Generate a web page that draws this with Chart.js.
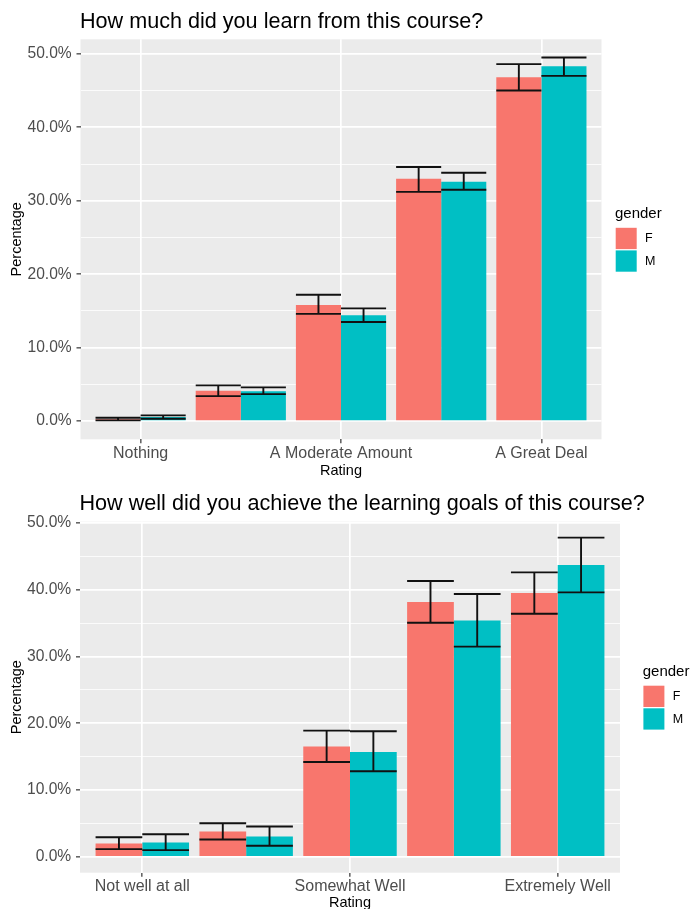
<!DOCTYPE html>
<html>
<head>
<meta charset="utf-8">
<title>Course survey by gender</title>
<script src="https://cdn.jsdelivr.net/npm/chart.js@4.4.1/dist/chart.umd.min.js"></script>
<style>
  html, body { margin: 0; padding: 0; background: #fff; overflow: hidden; }
  .wrap { position: absolute; left: 0; width: 691px; }
  #wrapLearn { top: 0; height: 480px; }
  #wrapGoals { top: 480px; height: 432px; }
</style>
</head>
<body>
<div class="wrap" id="wrapLearn"><canvas id="learnChart" width="691" height="480"></canvas></div>
<div class="wrap" id="wrapGoals"><canvas id="goalsChart" width="691" height="432"></canvas></div>
<script>
// Rating categories (only every second one carries a tick label in the original)
var learnCategories = ['Nothing', '', 'A Moderate Amount', '', 'A Great Deal'];
var goalsCategories = ['Not well at all', '', 'Somewhat Well', '', 'Extremely Well'];
var genders = ['F', 'M'];
var genderColors = ['#F8766D', '#00BFC4'];

// "How much did you learn" - percentages
var learnF     = [0.27, 4.13, 15.8, 33.0, 46.8];
var learnFLow  = [0.10, 3.40, 14.6, 31.2, 45.0];
var learnFHigh = [0.45, 4.86, 17.2, 34.6, 48.6];
var learnM     = [0.55, 4.05, 14.4, 32.6, 48.3];
var learnMLow  = [0.32, 3.68, 13.5, 31.5, 47.0];
var learnMHigh = [0.78, 4.60, 15.35, 33.8, 49.5];

// "How well did you achieve the learning goals"
var goalsF     = [1.99, 3.78, 16.5, 38.15, 39.5];
var goalsFLow  = [1.14, 2.59, 14.2, 35.06, 36.4];
var goalsFHigh = [2.93, 5.02, 18.9, 41.3, 42.6];
var goalsM     = [2.14, 3.03, 15.7, 35.4, 43.7];
var goalsMLow  = [0.99, 1.64, 12.8, 31.47, 39.6];
var goalsMHigh = [3.38, 4.53, 18.8, 39.35, 47.8];

// y ticks: majors every 10 (labelled), minors in between
var percentTicks = [0, 5, 10, 15, 20, 25, 30, 35, 40, 45, 50];

var FONT = '"Liberation Sans", Arial, sans-serif';
Chart.defaults.font.family = FONT;
Chart.defaults.color = '#4D4D4D';

// grey ggplot panel behind the grid
var panelBg = {
    id: 'panelBg',
    beforeDraw: function(chart) {
        var a = chart.chartArea, ctx = chart.ctx;
        ctx.save();
        ctx.fillStyle = '#EBEBEB';
        ctx.fillRect(a.left, a.top, a.right - a.left, a.bottom - a.top);
        ctx.restore();
    }
};

// error bars, same width as the bar they sit on
var errorBars = {
    id: 'errorBars',
    afterDatasetsDraw: function(chart) {
        var ctx = chart.ctx, y = chart.scales.y;
        ctx.save();
        ctx.strokeStyle = '#111';
        ctx.lineWidth = 1.9;
        chart.data.datasets.forEach(function(ds, i) {
            chart.getDatasetMeta(i).data.forEach(function(bar, j) {
                var half = bar.width / 2;
                var hi = y.getPixelForValue(ds.errHigh[j]);
                var lo = y.getPixelForValue(ds.errLow[j]);
                ctx.beginPath();
                ctx.moveTo(bar.x - half, hi); ctx.lineTo(bar.x + half, hi);
                ctx.moveTo(bar.x, hi); ctx.lineTo(bar.x, lo);
                ctx.moveTo(bar.x - half, lo); ctx.lineTo(bar.x + half, lo);
                ctx.stroke();
            });
        });
        ctx.restore();
    }
};

// legend on the right, ggplot style (keys stacked, title above)
var ggLegend = {
    id: 'ggLegend',
    afterDraw: function(chart, args, opts) {
        var ctx = chart.ctx, a = chart.chartArea;
        var x = a.right + opts.gap;
        var keysTop = (a.top + a.bottom) / 2 - 11.5;
        ctx.save();
        ctx.textAlign = 'left';
        ctx.textBaseline = 'middle';
        ctx.fillStyle = '#000';
        ctx.font = '15px ' + FONT;
        ctx.fillText(opts.title, x, keysTop - 13.5);
        ctx.font = '12.5px ' + FONT;
        chart.data.datasets.forEach(function(ds, i) {
            var ky = keysTop + i * 22.6;
            ctx.fillStyle = ds.backgroundColor;
            ctx.fillRect(x + 0.7, ky, 21, 21.3);
            ctx.fillStyle = '#000';
            ctx.fillText(ds.label, x + 30, ky + 11);
        });
        ctx.restore();
    }
};

// plot title, left aligned with the panel
var ggTitle = {
    id: 'ggTitle',
    afterDraw: function(chart, args, opts) {
        var ctx = chart.ctx;
        ctx.save();
        ctx.fillStyle = '#000';
        ctx.textAlign = 'left';
        ctx.textBaseline = 'alphabetic';
        ctx.font = opts.size + 'px ' + FONT;
        ctx.fillText(opts.text, chart.chartArea.left - 0.5, opts.baseline);
        ctx.restore();
    }
};

function makeChart(canvasId, s) {
    var labelledIdx = [];
    s.categories.forEach(function(c, i) { if (c) labelledIdx.push(i); });

    function series(label, color, vals, low, high) {
        return {
            label: label,
            data: vals.map(function(v, i) { return {x: i, y: v}; }),
            errLow: low,
            errHigh: high,
            backgroundColor: color,
            borderWidth: 0,
            categoryPercentage: 0.9,
            barPercentage: 1.0
        };
    }

    return new Chart(document.getElementById(canvasId), {
        type: 'bar',
        data: {
            datasets: [
                series(genders[0], genderColors[0], s.f, s.fLow, s.fHigh),
                series(genders[1], genderColors[1], s.m, s.mLow, s.mHigh)
            ]
        },
        plugins: [panelBg, errorBars, ggLegend, ggTitle],
        options: {
            responsive: false,
            animation: false,
            layout: { padding: { left: 0, top: s.top, right: s.padRight, bottom: 0 } },
            plugins: {
                legend: { display: false },
                tooltip: { enabled: false },
                ggLegend: { title: 'gender', gap: s.legendGap },
                ggTitle: { text: s.title, size: 21.6, baseline: s.titleBaseline }
            },
            scales: {
                x: {
                    type: 'linear',
                    min: -0.6,
                    max: 4.6,
                    bounds: 'data',
                    offset: false,
                    afterBuildTicks: function(axis) {
                        axis.ticks = labelledIdx.map(function(i) { return {value: i}; });
                    },
                    afterFit: function(axis) { axis.height = s.xAxisHeight; },
                    grid: { offset: false, color: '#FFFFFF', lineWidth: 1.7, tickColor: '#333333', tickLength: 4, tickWidth: 1.2 },
                    border: { display: false },
                    ticks: {
                        autoSkip: false,
                        maxRotation: 0,
                        padding: 0.5,
                        font: { size: 16 },
                        color: '#4D4D4D',
                        callback: function(v) { return s.categories[v]; }
                    },
                    title: { display: true, text: 'Rating', color: '#000', font: { size: 14.5 }, padding: { top: 0, bottom: 0 } }
                },
                y: {
                    min: s.yMin,
                    max: s.yMax,
                    bounds: 'data',
                    afterBuildTicks: function(axis) {
                        axis.ticks = percentTicks.map(function(v) { return {value: v}; });
                    },
                    afterFit: function(axis) { axis.width = s.yAxisWidth; },
                    grid: {
                        color: '#FFFFFF',
                        lineWidth: function(c) { return c.tick && c.tick.value % 10 === 0 ? 1.7 : 0.8; },
                        tickColor: function(c) { return c.tick && c.tick.value % 10 === 0 ? '#333333' : 'rgba(0,0,0,0)'; },
                        tickLength: 4,
                        tickWidth: 1.2
                    },
                    border: { display: false },
                    ticks: {
                        padding: 4.8,
                        font: { size: 15.6 },
                        color: '#4D4D4D',
                        callback: function(v) { return v % 10 === 0 ? v.toFixed(1) + '%' : ''; }
                    },
                    title: { display: true, text: 'Percentage', color: '#000', font: { size: 14.5 }, padding: { top: 7.8, bottom: 0 } }
                }
            }
        }
    });
}

makeChart('learnChart', {
    title: 'How much did you learn from this course?',
    categories: learnCategories,
    f: learnF, fLow: learnFLow, fHigh: learnFHigh,
    m: learnM, mLow: learnMLow, mHigh: learnMHigh,
    yMin: -2.475, yMax: 51.975,
    top: 39.3, padRight: 89.5, yAxisWidth: 80.5, xAxisHeight: 40.7,
    legendGap: 13.5, titleBaseline: 27.7
});

makeChart('goalsChart', {
    title: 'How well did you achieve the learning goals of this course?',
    categories: goalsCategories,
    f: goalsF, fLow: goalsFLow, fHigh: goalsFHigh,
    m: goalsM, mLow: goalsMLow, mHigh: goalsMHigh,
    yMin: -2.39, yMax: 50.19,
    top: 41.7, padRight: 71, yAxisWidth: 80, xAxisHeight: 39.3,
    legendGap: 22.7, titleBaseline: 30
});
</script>
</body>
</html>
